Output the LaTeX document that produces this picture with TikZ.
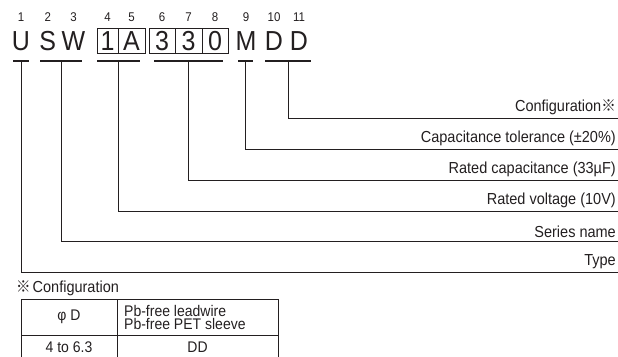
\documentclass[tikz,border=0pt]{standalone}
\usepackage{graphicx}
\usepackage{fontspec}
\setmainfont{Liberation Sans}
\newfontfamily\cjk{Noto Sans CJK JP}
\usetikzlibrary{positioning,calc}
\definecolor{ink}{RGB}{35, 31, 32}
\newcommand\tall[1]{\scalebox{1}[1.1]{#1}}

\begin{document}
\begin{tikzpicture}[x=1pt,y=1pt,color=ink,
                bar/.style={line width=2.4pt},
                lead/.style={line width=0.8pt},
                cell/.style={line width=0.7pt},
                lbl/.style={inner sep=0pt,font=\fontsize{14.5}{16}\selectfont},
                big/.style={anchor=base,inner sep=0pt,font=\fontsize{25}{28}\selectfont},
                num/.style={anchor=base,inner sep=0pt,font=\fontsize{11.5}{12}\selectfont},
                tab/.style={inner sep=0pt,font=\fontsize{14}{14}\selectfont}]
                \useasboundingbox (0,0) rectangle (618,356);
                % code letters with their position numbers
                \foreach \x/\c [count=\i] in {21/U, 47.7/S, 73.5/W, 107.5/1, 131.5/A, 162/3, 188.5/3, 215/0, 246/M, 274/D, 299/D}
                {
                    \node[big] (c\i) at (\x,305) {\tall{\c}};
                    \node[num] (n\i) at (\x,334.3) {\tall{\i}};
                }
                \draw[cell] (97,303) rectangle (145,328);
                \draw[cell] (118,303) -- (118,328);
                \draw[cell] (149,303) rectangle (228,328);
                \draw[cell] (175,303) -- (175,328);
                \draw[cell] (202,303) -- (202,328);
                % underlines, leaders and labels
                \foreach \a/\b/\y/\t [count=\k] in {13/29/84/Type, 40/82/115/Series name, 97/140/145/Rated voltage (10V), 154/223/176/Rated capacitance (33µF), 238/253/207/Capacitance tolerance (±20\%), 265/311/238/Configuration{\cjk ※}}
                {
                    \draw[bar] (\a,295) coordinate (bl\k) -- (\b,295) coordinate (br\k);
                    \coordinate (end\k) at (618,\y);
                    \draw[lead] ($(bl\k)!.5!(br\k)$) |- (end\k);
                    \node[lbl,above left=3pt and 2pt of end\k] (lab\k) {\tall{\t}};
                }
                % configuration table
                \node[tab,anchor=west,font=\fontsize{14.5}{16}\selectfont] (note) at (16,68) {\tall{{\cjk ※}\kern2pt Configuration}};
                \draw[cell] (21,-2) rectangle (278,57);
                \draw[cell] (117,-2) -- (117,57);
                \draw[cell] (21,21) -- (278,21);
                \node[tab] (dhead) at (69,39) {\tall{φ D}};
                \node[tab,anchor=west,align=left] (phead) at (124,39) {\tall{Pb-free leadwire}\\[-1pt]\tall{Pb-free PET sleeve}};
                \node[tab] (dval) at (69,9) {\tall{4 to 6.3}};
                \node[tab] (pval) at (197.5,9) {\tall{DD}};
            \end{tikzpicture}
\end{document}
